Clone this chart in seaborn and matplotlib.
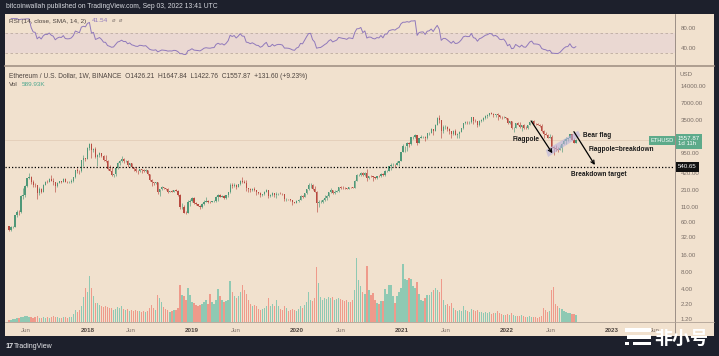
import numpy as np
import pandas as pd
import seaborn as sns
import matplotlib
matplotlib.use("Agg")
import matplotlib.pyplot as plt
import matplotlib.dates as mdates
from matplotlib.patches import Rectangle
from matplotlib.lines import Line2D
from matplotlib.ticker import NullLocator
from matplotlib.transforms import blended_transform_factory

# ---- weekly ETH/USD candles (months grouped per line) ----
first_open = 50.0
close_2017 = [44, 48, 49, 79, 90, 88, 170, 172, 250, 340, 358, 300, 262,
              258, 190, 226, 200, 262, 300, 298, 335, 310, 298, 252, 283, 302,
              298, 336, 300, 296, 298, 312, 354, 472, 462, 452, 700, 760, 752]
high_2017 = [51, 50, 50, 80, 97, 95, 175, 230, 260, 345, 420, 380, 325,
             285, 262, 240, 235, 270, 310, 320, 350, 395, 340, 300, 300, 310,
             305, 350, 340, 310, 312, 330, 362, 478, 520, 480, 722, 860, 780]
low_2017 = [41, 42, 46, 48, 74, 80, 87, 150, 165, 245, 330, 270, 245,
            245, 150, 172, 190, 196, 258, 280, 295, 305, 260, 197, 245, 280,
            288, 295, 290, 282, 287, 282, 300, 350, 415, 400, 440, 550, 690]

close_2018 = [1150, 1370, 1050, 1110, 800, 860, 940, 850, 700, 690, 500, 450, 385,
              400, 510, 640, 680, 745, 680, 690, 580, 620, 530, 500, 460, 450,
              490, 480, 460, 470, 400, 320, 290, 280, 290, 200, 220, 240, 230,
              222, 200, 203, 200, 210, 205, 175, 110, 110, 86, 85, 130, 138, 155]
high_2018 = [1180, 1420, 1380, 1160, 1180, 890, 975, 960, 880, 870, 700, 580, 540,
             410, 530, 650, 710, 835, 760, 725, 705, 630, 625, 535, 540, 470,
             495, 490, 500, 490, 475, 410, 330, 300, 300, 295, 225, 250, 245,
             235, 230, 208, 210, 216, 225, 210, 180, 125, 118, 92, 145, 150, 160]
low_2018 = [745, 1050, 760, 990, 760, 560, 810, 800, 690, 650, 480, 450, 370,
            365, 380, 500, 590, 660, 620, 660, 545, 560, 515, 460, 435, 410,
            440, 425, 445, 440, 390, 310, 250, 265, 272, 185, 168, 210, 225,
            215, 190, 195, 196, 195, 202, 170, 100, 102, 84, 81, 84, 115, 130]

close_2019 = [125, 120, 115, 108, 120, 135, 140, 135, 133, 137, 138, 165,
              175, 165, 170, 158, 172, 195, 262, 252, 265, 245, 270, 310, 290,
              288, 230, 225, 212, 222, 210, 195, 192, 172, 180, 200, 215, 170, 172,
              190, 172, 182, 186, 185, 180, 150, 150, 148, 142, 132, 128, 140]
high_2019 = [160, 130, 123, 118, 125, 145, 165, 142, 140, 140, 143, 168,
             185, 185, 175, 178, 174, 198, 280, 280, 285, 270, 275, 318, 365,
             320, 315, 235, 228, 232, 238, 215, 198, 195, 185, 202, 225, 218, 180,
             195, 192, 198, 190, 197, 190, 182, 158, 152, 150, 145, 135, 145]
low_2019 = [120, 118, 112, 102, 105, 118, 132, 128, 125, 130, 132, 131,
            140, 160, 160, 150, 152, 160, 190, 230, 240, 225, 240, 260, 280,
            280, 205, 195, 200, 205, 205, 175, 180, 165, 168, 176, 195, 158, 165,
            168, 165, 158, 175, 180, 175, 140, 140, 144, 138, 116, 125, 126]

close_2020 = [145, 168, 165, 190, 222, 262, 265, 220, 200, 125, 130, 132, 144,
              158, 170, 195, 210, 188, 198, 208, 240, 236, 232, 230, 225, 240,
              238, 235, 310, 390, 395, 430, 388, 430, 352, 372, 370, 355, 350,
              372, 368, 410, 385, 460, 460, 550, 575, 590, 585, 640, 685, 975]
high_2020 = [150, 175, 172, 192, 225, 288, 285, 275, 253, 202, 145, 145, 150,
             175, 175, 198, 228, 218, 210, 215, 245, 252, 250, 240, 235, 242,
             245, 242, 320, 400, 410, 440, 445, 440, 490, 380, 395, 380, 365,
             375, 385, 420, 415, 470, 475, 560, 625, 630, 600, 675, 690, 1000]
low_2020 = [135, 142, 155, 163, 185, 218, 235, 210, 195, 90, 110, 125, 125,
            140, 145, 165, 190, 180, 180, 195, 200, 225, 222, 225, 220, 222,
            230, 230, 232, 305, 370, 375, 380, 375, 310, 335, 360, 310, 335,
            335, 365, 365, 370, 375, 440, 455, 480, 565, 530, 580, 550, 680]

close_2021 = [1230, 1230, 1380, 1370, 1780, 1780, 1935, 1420, 1730, 1790, 1810, 1690, 2080,
              2140, 2430, 2300, 2950, 3900, 3600, 2300, 2700, 2700, 2500, 2240, 1980, 2320,
              1950, 1990, 2190, 2550, 3150, 3300, 3240, 3250, 3950, 3410, 3330, 2900, 3380,
              3550, 3850, 4170, 4300, 4610, 4570, 4320, 4440, 4300, 4000, 3950, 4050, 3760]
high_2021 = [1350, 1260, 1475, 1440, 1790, 1870, 2040, 1950, 1740, 1940, 1850, 1830, 2100,
             2200, 2550, 2450, 2960, 4050, 4370, 3600, 2900, 2890, 2750, 2600, 2280, 2350,
             2420, 2140, 2290, 2550, 3180, 3330, 3340, 3380, 4020, 3980, 3680, 3450, 3480,
             3620, 3980, 4380, 4460, 4670, 4870, 4590, 4560, 4770, 4400, 4120, 4150, 4050]
low_2021 = [965, 1000, 1040, 1220, 1310, 1650, 1730, 1300, 1420, 1730, 1730, 1550, 1680,
            1950, 2100, 1950, 2240, 2930, 3150, 1730, 2100, 2450, 2300, 2040, 1700, 1970,
            1950, 1720, 1720, 2150, 2420, 3050, 2960, 3060, 3150, 3000, 3270, 2650, 2730,
            3280, 3370, 3690, 3900, 4140, 4520, 3920, 3920, 3500, 3900, 3640, 3780, 3690]

close_2022 = [3140, 3330, 2540, 2600, 3130, 2880, 2640, 2920, 2570, 2520, 2860, 3290, 3450,
              3000, 2990, 2950, 2830, 2230, 2050, 1970, 1730, 1800, 1200, 1130, 1090, 1070,
              1160, 1350, 1540, 1680, 1700, 1980, 1580, 1426.21, 1557.87]
high_2022 = [3880, 3420, 3370, 2720, 3140, 3280, 3200, 2950, 3040, 2750, 2950, 3300, 3480,
             3580, 3170, 3190, 3030, 2960, 2340, 2160, 2030, 2010, 1900, 1230, 1280, 1220,
             1290, 1385, 1670, 1790, 1750, 2020, 2030, 1700, 1647.84]
low_2022 = [3000, 3060, 2450, 2160, 2580, 2870, 2560, 2300, 2490, 2450, 2500, 2850, 3250,
            3000, 2950, 2890, 2710, 2160, 1700, 1950, 1720, 1720, 1170, 880, 1040, 990,
            1050, 1000, 1340, 1350, 1550, 1690, 1560, 1420, 1422.76]

# weekly volume in thousand ETH
vol_2017 = [170, 170, 250, 250, 335, 335, 420, 420, 505, 505, 420, 420, 335,
            420, 505, 335, 335, 420, 335, 420, 335, 420, 505, 420, 420, 335,
            335, 420, 420, 335, 420, 420, 670, 1010, 840, 1010, 1345, 2100, 2855]
vol_2018 = [2520, 3865, 2855, 2185, 1595, 1595, 1430, 1345, 1260, 1345, 1260, 1175, 1175,
            1010, 1090, 1260, 1175, 1345, 1090, 1010, 1090, 925, 1010, 925, 1010, 925,
            925, 840, 925, 840, 925, 1175, 1430, 1175, 1010, 2270, 2015, 1680, 1260,
            1090, 1010, 840, 925, 1010, 1010, 1175, 3110, 2270, 2185, 1850, 2855, 2270, 1680]
vol_2019 = [1595, 1430, 1345, 1430, 1510, 1680, 1850, 1510, 2350, 1680, 1510, 1850,
            2770, 2185, 1850, 1680, 1765, 1850, 3445, 2520, 2185, 2015, 2185, 2520, 3110,
            2690, 2350, 1850, 1510, 1345, 1430, 1345, 1090, 1010, 1090, 1175, 1345, 2015, 1345,
            1510, 1345, 1850, 1345, 1090, 1010, 1345, 1175, 925, 1010, 1090, 1010, 925]
vol_2020 = [1090, 1345, 1175, 1430, 1680, 2520, 1850, 1765, 2015, 4620, 3275, 2100, 1850,
            2015, 1930, 2100, 2015, 2100, 1850, 1930, 2015, 1930, 1850, 1765, 1850, 1680,
            1680, 1850, 2690, 5375, 3530, 3025, 2520, 2350, 4705, 2690, 2270, 2435, 1850,
            1595, 1510, 1765, 1765, 2770, 2350, 3110, 3110, 2185, 1595, 2185, 2520, 2855]
vol_2021 = [4870, 3610, 3530, 3700, 3610, 3025, 2855, 3360, 2350, 1850, 1765, 2015, 2270,
            2270, 2520, 2690, 2855, 2690, 2520, 3610, 1850, 1430, 1510, 1345, 1595, 1175,
            1010, 925, 1010, 925, 1345, 1010, 925, 840, 1090, 1010, 925, 1010, 840,
            840, 755, 840, 755, 840, 670, 755, 755, 925, 755, 670, 590, 590]
vol_2022 = [670, 590, 755, 590, 505, 505, 505, 590, 505, 420, 420, 505, 420,
            420, 420, 335, 420, 505, 1175, 1010, 840, 925, 2690, 2940, 1510, 1345,
            1175, 1090, 925, 840, 755, 755, 670, 670, 589.93]

closes = close_2017 + close_2018 + close_2019 + close_2020 + close_2021 + close_2022
highs = high_2017 + high_2018 + high_2019 + high_2020 + high_2021 + high_2022
lows = low_2017 + low_2018 + low_2019 + low_2020 + low_2021 + low_2022
volume_k = vol_2017 + vol_2018 + vol_2019 + vol_2020 + vol_2021 + vol_2022
opens = [first_open] + closes[:-1]
dates = pd.date_range("2017-04-03", periods=len(closes), freq="7D")

# axis ticks
price_ticks = [1.2, 2.2, 4, 8, 16, 32, 60, 110, 210, 420, 950, 1800, 3500, 7000, 14000]
rsi_ticks = [40, 80]
time_ticks = ["2017-06-01", "2018-01-01", "2018-06-01", "2019-01-01", "2019-06-01",
              "2020-01-01", "2020-06-01", "2021-01-01", "2021-06-01", "2022-01-01",
              "2022-06-01", "2023-01-01", "2023-06-01"]
time_labels = ["Jun", "2018", "Jun", "2019", "Jun", "2020", "Jun", "2021", "Jun",
               "2022", "Jun", "2023", "Jun"]

# drawings on the chart
target_price = 540.65
flag_dates = ["2022-05-16", "2022-05-24", "2022-09-14", "2022-09-06"]
flag_prices = [1063, 803, 1863, 2303]
pole_arrow = [("2022-03-26", 3400), ("2022-06-08", 931)]
break_arrow = [("2022-08-22", 2213), ("2022-11-03", 583)]
notes = [("Flagpole", "2022-03-10", 1587, "center"),
         ("Bear flag", "2022-09-22", 1863, "left"),
         ("Flagpole=breakdown", "2022-10-13", 1063, "left"),
         ("Breakdown target", "2022-08-11", 391, "left")]

# ---- style ----
DARK = "#1d202c"
PAPER = "#f1e1ce"
UP, DOWN = "#4f9878", "#b84a40"
VOL_UP, VOL_DOWN = "#8fc9b3", "#ef9a8b"
RSI_C = "#9079bb"
TXT = "#7a6e67"
TAG = "#5daa8a"

sns.set_theme(style="white")
plt.rcParams["font.family"] = ["Liberation Sans", "Noto Sans CJK SC", "DejaVu Sans"]

W, H = 719, 356
fig = plt.figure(figsize=(W / 100, H / 100), dpi=100, facecolor=DARK)


def fx(x):
    return x / W


def fy(y):
    return 1 - y / H


# beige chart area, kept behind the axes
fig.patches.append(Rectangle((fx(5), fy(336)), 709 / W, 322 / H, transform=fig.transFigure,
                             facecolor=PAPER, edgecolor="none", zorder=-5))

ax_rsi = fig.add_axes([fx(5), fy(66), 670 / W, 52 / H])
ax_vol = fig.add_axes([fx(5), fy(322), 670 / W, 256 / H])
ax = fig.add_axes([fx(5), fy(322), 670 / W, 256 / H], sharex=ax_vol)
for a in (ax_rsi, ax_vol, ax):
    a.set_facecolor("none")
    for s in a.spines.values():
        s.set_visible(False)
    a.grid(False)

xlim = (pd.Timestamp("2017-03-20"), pd.Timestamp("2023-08-09"))

# ---- volume ----
is_up = np.array(closes) >= np.array(opens)
ax_vol.bar(dates, volume_k, width=4.6, color=np.where(is_up, VOL_UP, VOL_DOWN), linewidth=0)
ax_vol.set_ylim(0, 21500)
ax_vol.set_xlim(*xlim)
ax_vol.tick_params(left=False, bottom=False, labelleft=False, labelbottom=False)

# ---- candles ----
cols = np.where(is_up, UP, DOWN)
ax.vlines(dates, lows, highs, colors=cols, linewidth=0.45, zorder=3)
body_lo = np.minimum(opens, closes)
body_h = np.abs(np.array(closes) - np.array(opens))
ax.bar(dates, body_h, bottom=body_lo, width=4.4, color=cols, linewidth=0, zorder=4)
ax.set_yscale("log")
ax.set_ylim(1.085, 30700)
ax.set_xlim(*xlim)
ax.yaxis.set_minor_locator(NullLocator())
ax.set_yticks(price_ticks)
ax.set_yticklabels([f"{p:.2f}" for p in price_ticks])
ax.yaxis.tick_right()
ax.tick_params(axis="y", length=0, pad=4, labelsize=4.4, colors=TXT)
ax.set_xticks(pd.to_datetime(time_ticks))
ax.set_xticklabels(time_labels)
ax.tick_params(axis="x", length=0, pad=4.5, labelsize=4.5, colors=TXT)
for lbl in ax.get_xticklabels():
    if lbl.get_text().isdigit():
        lbl.set_color("#4e4540")
        lbl.set_fontweight("bold")
ax.set_xlabel("")
ax.set_ylabel("")

# last price line and target line
ax.axhline(closes[-1], color="#e3cdb8", lw=0.6, zorder=1)
ax.axhline(target_price, color="black", lw=0.9, ls=(0, (1, 1.6)), zorder=5)

# bear flag channel
ax.fill(mdates.date2num(pd.to_datetime(flag_dates)), flag_prices,
        color="#b7b2de", alpha=0.6, lw=0, zorder=5)
for arrow in (pole_arrow, break_arrow):
    (d0, p0), (d1, p1) = arrow
    ax.annotate("", xy=(mdates.date2num(pd.Timestamp(d1)), p1),
                xytext=(mdates.date2num(pd.Timestamp(d0)), p0),
                arrowprops=dict(arrowstyle="->", color="black", lw=0.9,
                                mutation_scale=6, shrinkA=0, shrinkB=0), zorder=6)
for text, d, p, ha in notes:
    ax.text(mdates.date2num(pd.Timestamp(d)), p, text, ha=ha, va="center",
            fontsize=4.7, fontweight="bold", color="#1a1a1a", zorder=7)

# price tags on the right axis
tr = blended_transform_factory(ax.transAxes, ax.transData)
ax.text(1.004, target_price, f"{target_price:.2f}", transform=tr, ha="left", va="center",
        fontsize=4.4, color="white", clip_on=False, zorder=10,
        bbox=dict(boxstyle="square,pad=0.35", fc="#111111", ec="none"))
ax.text(0.9985, closes[-1], "ETHUSD", transform=tr, ha="right", va="center",
        fontsize=4.1, color="white", clip_on=False, zorder=10,
        bbox=dict(boxstyle="square,pad=0.35", fc=TAG, ec="none"))
ax.annotate(f"{closes[-1]:.2f}\n1d 11h", xy=(1.004, closes[-1]), xycoords=tr,
            xytext=(0, 3.2), textcoords="offset points", ha="left", va="top",
            fontsize=4.4, color="white", linespacing=1.1, annotation_clip=False, zorder=10,
            bbox=dict(boxstyle="square,pad=0.35", fc=TAG, ec="none"))

# ---- RSI pane ----
chg = pd.Series(closes).diff()
gain = chg.clip(lower=0).ewm(alpha=1 / 14, adjust=False).mean()
loss = (-chg.clip(upper=0)).ewm(alpha=1 / 14, adjust=False).mean()
rsi = 100 - 100 / (1 + gain / loss)
rsi_df = pd.DataFrame({"date": dates, "rsi": rsi.values})
ax_rsi.axhspan(30, 70, color="#ead8d2", lw=0, zorder=0)
for lvl in (30, 70):
    ax_rsi.axhline(lvl, color="#bcaba0", lw=0.6, ls=(0, (3, 3)), zorder=1)
sns.lineplot(data=rsi_df, x="date", y="rsi", ax=ax_rsi, color=RSI_C, lw=0.7, zorder=3)
ax_rsi.set_ylim(2.3, 109.5)
ax_rsi.set_xlim(*xlim)
ax_rsi.set_yticks(rsi_ticks)
ax_rsi.set_yticklabels([f"{v:.2f}" for v in rsi_ticks])
ax_rsi.yaxis.tick_right()
ax_rsi.tick_params(axis="y", length=0, pad=4, labelsize=4.4, colors=TXT)
ax_rsi.tick_params(axis="x", bottom=False, labelbottom=False)
ax_rsi.set_xlabel("")
ax_rsi.set_ylabel("")

# ---- frame lines ----
for (x0, y0, x1, y1, c, w) in [(675, 14, 675, 336, "#9c8f86", 0.7),
                               (5, 66, 714, 66, "#ae9e90", 1.4),
                               (5, 322, 714, 322, "#b0a296", 0.6)]:
    fig.add_artist(Line2D([fx(x0), fx(x1)], [fy(y0), fy(y1)], color=c, lw=w,
                          transform=fig.transFigure, zorder=2))

# ---- texts ----
fig.text(fx(6), fy(7), "bitcoinwallah published on TradingView.com, Sep 03, 2022 13:41 UTC",
         fontsize=4.85, color="#d6d8de", va="center")
fig.text(fx(9), fy(21), "RSI (14, close, SMA, 14, 2)", fontsize=4.6, color="#4e4540", va="center")
fig.text(fx(92), fy(21), "41.54", fontsize=4.6, color=RSI_C, va="center")
fig.text(fx(112), fy(21), "ø  ø", fontsize=4.2, color="#8a7e77", va="center", style="italic")
fig.text(fx(9), fy(76),
         f"Ethereum / U.S. Dollar, 1W, BINANCE  O{opens[-1]:.2f}  H{highs[-1]:.2f}  "
         f"L{lows[-1]:.2f}  C{closes[-1]:.2f}  +131.60 (+9.23%)",
         fontsize=4.75, color="#4e4540", va="center")
fig.text(fx(9), fy(85), "Vol", fontsize=4.6, color="#4e4540", va="center")
fig.text(fx(22), fy(85), f"{volume_k[-1]:.2f}K", fontsize=4.6, color="#4fa88f", va="center")
fig.text(fx(680), fy(74), "USD", fontsize=4.4, color=TXT, va="center")
fig.text(fx(5), fy(346), "17", fontsize=5.2, fontweight="bold", color="#e8e9ec", va="center")
fig.text(fx(14), fy(346), "TradingView", fontsize=5.0, color="#e8e9ec", va="center")

# watermark
for (x0, y0, w, h) in [(625, 328, 26, 3.5), (627, 335, 24, 3.5), (633, 341.5, 18, 3.5),
                       (625, 341.5, 4, 3.5)]:
    fig.patches.append(Rectangle((fx(x0), fy(y0 + h)), w / W, h / H, transform=fig.transFigure,
                                 facecolor="white", edgecolor="none", zorder=20))
fig.text(fx(654), fy(338), "非小号", fontsize=13, fontweight="bold", color="white", va="center",
         family=["Noto Sans CJK SC", "DejaVu Sans"], zorder=20)

fig.savefig("out.png", dpi=100, facecolor=DARK)
